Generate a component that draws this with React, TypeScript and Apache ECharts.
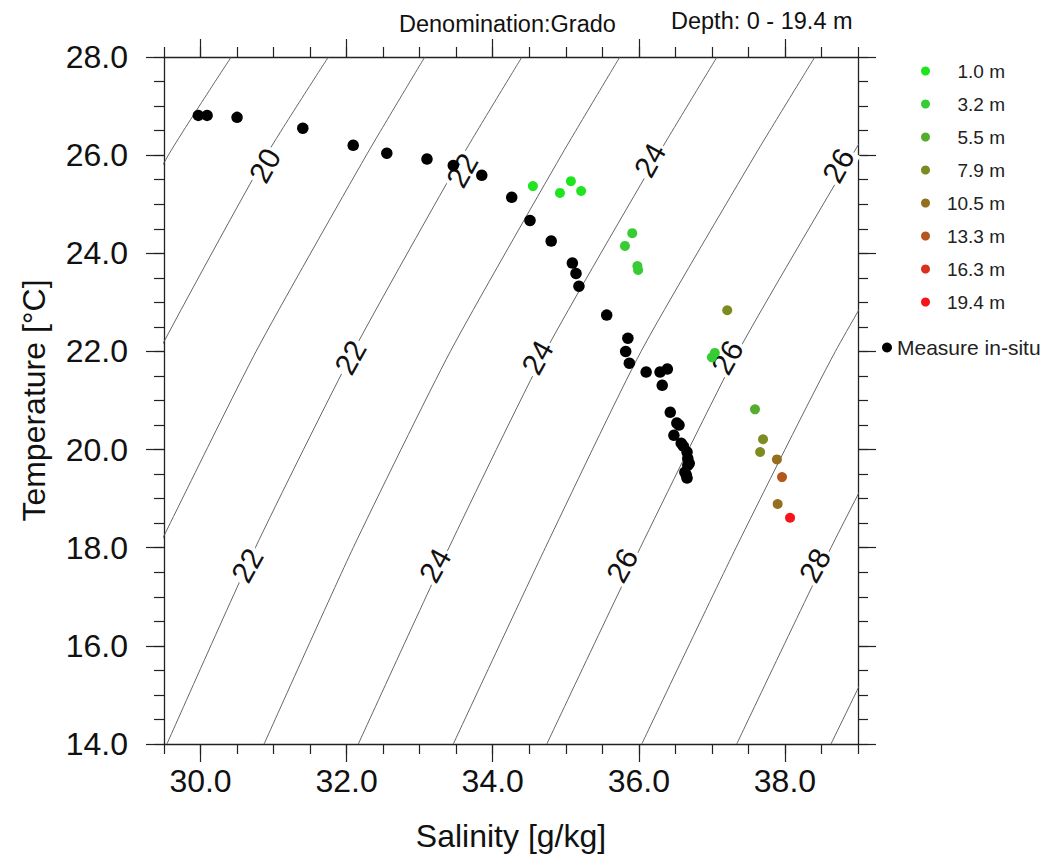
import React, { useEffect, useRef } from "react";
import * as echarts from "echarts";

const FONT = '"Liberation Sans", Arial, Helvetica, sans-serif';

// ---- axis ticks ----
const salinityRange = [29.5, 39.0];
const temperatureRange = [14, 28];
const salinityMajorTicks = [30, 32, 34, 36, 38];
const salinityMinorTicks = [29.5, 30, 30.5, 31, 31.5, 32, 32.5, 33, 33.5, 34, 34.5, 35, 35.5, 36, 36.5, 37, 37.5, 38, 38.5, 39];
const temperatureMajorTicks = [14, 16, 18, 20, 22, 24, 26, 28];
const temperatureMinorTicks = [14, 14.5, 15, 15.5, 16, 16.5, 17, 17.5, 18, 18.5, 19, 19.5, 20, 20.5, 21, 21.5, 22, 22.5, 23, 23.5, 24, 24.5, 25, 25.5, 26, 26.5, 27, 27.5, 28];

// ---- in-situ measurements (salinity g/kg, temperature °C) ----
const inSituSalinity = [29.97, 30.09, 30.5, 31.4, 32.09, 32.55, 33.1, 33.46, 33.85, 34.26, 34.51, 34.8, 35.09, 35.14, 35.18, 35.56, 35.85, 35.82, 35.87, 36.1, 36.29, 36.39, 36.32, 36.43, 36.52, 36.55, 36.48, 36.58, 36.61, 36.66, 36.67, 36.69, 36.67, 36.63, 36.65, 36.66];
const inSituTemperature = [26.81, 26.81, 26.77, 26.55, 26.2, 26.04, 25.92, 25.79, 25.59, 25.14, 24.67, 24.25, 23.8, 23.59, 23.33, 22.74, 22.27, 22.0, 21.76, 21.58, 21.58, 21.64, 21.31, 20.76, 20.54, 20.5, 20.29, 20.13, 20.07, 19.95, 19.82, 19.72, 19.68, 19.54, 19.48, 19.42];

// ---- model levels ----
const depthLevels = ["1.0 m", "3.2 m", "5.5 m", "7.9 m", "10.5 m", "13.3 m", "16.3 m", "19.4 m"];
const depthColors = ["#1fe41f", "#38cc34", "#55ad2e", "#7d8b20", "#946f1e", "#b5561d", "#d8321f", "#f5141a"];
const level1_0 = [[34.55, 25.37], [34.92, 25.23], [35.07, 25.47], [35.21, 25.27]];
const level3_2 = [[35.91, 24.41], [35.81, 24.15], [35.98, 23.74], [35.99, 23.66], [37.04, 21.97], [37.0, 21.88]];
const level5_5 = [[37.59, 20.82]];
const level7_9 = [[37.21, 22.84], [37.7, 20.21], [37.66, 19.95]];
const level10_5 = [[37.89, 19.8], [37.9, 18.89]];
const level13_3 = [[37.96, 19.44]];
const level16_3: number[][] = [];
const level19_4 = [[38.07, 18.61]];
const levelPoints = [level1_0, level3_2, level5_5, level7_9, level10_5, level13_3, level16_3, level19_4];

// ---- isopycnals (salinity, temperature) ----
const sigma19 = [[28.1, 22], [29.56, 26], [30.42, 28]];
const sigma20 = [[28.1, 18], [29.43, 22], [30.9, 26], [31.75, 28]];
const sigma21 = [[29.42, 18], [30.76, 22], [32.27, 26], [33.07, 28]];
const sigma22 = [[29.54, 14], [30.75, 18], [32.09, 22], [33.59, 26], [34.4, 28]];
const sigma23 = [[30.87, 14], [32.09, 18], [33.42, 22], [34.94, 26], [35.74, 28]];
const sigma24 = [[32.16, 14], [33.4, 18], [34.72, 22], [36.26, 26], [37.07, 28]];
const sigma25 = [[33.46, 14], [34.72, 18], [36.03, 22], [37.59, 26], [38.41, 28]];
const sigma26 = [[34.74, 14], [36.02, 18], [37.36, 22], [38.92, 26], [39.74, 28]];
const sigma27 = [[36.04, 14], [37.33, 18], [38.69, 22], [40.25, 26]];
const sigma28 = [[37.34, 14], [38.63, 18], [40.01, 22]];
const sigma29 = [[38.63, 14], [39.94, 18]];
const isopycnals = [sigma19, sigma20, sigma21, sigma22, sigma23, sigma24, sigma25, sigma26, sigma27, sigma28, sigma29];

// ---- isopycnal labels ----
const isoLabelText = ["20", "22", "24", "26", "22", "24", "26", "22", "24", "26", "28"];
const isoLabelSalinity = [30.88, 33.58, 36.15, 38.73, 32.05, 34.61, 37.21, 30.64, 33.21, 35.77, 38.41];
const isoLabelTemperature = [25.79, 25.69, 25.9, 25.79, 21.88, 21.88, 21.88, 17.64, 17.64, 17.64, 17.64];

const AXIS_COLOR = "#222";
const TEXT_COLOR = "#111";

function axis(kind: "x" | "y", position: string, ticks: number[], len: number, labels: boolean, line: boolean) {
  const range = kind === "x" ? salinityRange : temperatureRange;
  return {
    type: "value",
    position,
    min: range[0],
    max: range[1],
    scale: true,
    splitLine: { show: false },
    axisLine: { show: line, onZero: false, lineStyle: { color: AXIS_COLOR, width: 1.3 } },
    axisTick: { show: true, inside: false, length: len, customValues: ticks, lineStyle: { color: AXIS_COLOR, width: 1.2 } },
    axisLabel: labels
      ? {
          show: true,
          customValues: ticks,
          formatter: (v: number) => v.toFixed(1),
          fontFamily: FONT,
          fontSize: 32,
          color: TEXT_COLOR,
          margin: kind === "x" ? 21 : 36,
          showMinLabel: true,
          showMaxLabel: true,
        }
      : { show: false },
  };
}

export default function App() {
  const ref = useRef<HTMLDivElement>(null);
  useEffect(() => {
    if (!ref.current) return;
    const chart = echarts.init(ref.current, null, { renderer: "svg" });

    const xAxes: any[] = [
      {
        ...axis("x", "bottom", salinityMajorTicks, 18, true, true),
        name: "Salinity [g/kg]",
        nameLocation: "middle",
        nameGap: 76,
        nameTextStyle: { fontFamily: FONT, fontSize: 32, color: TEXT_COLOR },
      },
      axis("x", "bottom", salinityMinorTicks, 10, false, false),
      axis("x", "top", salinityMajorTicks, 18, false, true),
      axis("x", "top", salinityMinorTicks, 10, false, false),
    ];
    const yAxes: any[] = [
      {
        ...axis("y", "left", temperatureMajorTicks, 18, true, true),
        name: "Temperature [°C]",
        nameLocation: "middle",
        nameGap: 114,
        nameTextStyle: { fontFamily: FONT, fontSize: 32, color: TEXT_COLOR },
      },
      axis("y", "left", temperatureMinorTicks, 10, false, false),
      axis("y", "right", temperatureMajorTicks, 18, false, true),
      axis("y", "right", temperatureMinorTicks, 10, false, false),
    ];

    const lineSeries = isopycnals.map((pts, i) => ({
      type: "line",
      name: "sigma" + (19 + i),
      data: pts,
      showSymbol: false,
      symbol: "none",
      smooth: 0.2,
      silent: true,
      clip: true,
      z: 1,
      lineStyle: { color: "#555", width: 0.9 },
      emphasis: { disabled: true },
    }));

    const labelSeries = {
      type: "scatter",
      name: "isoLabels",
      data: isoLabelText.map((t, i) => [isoLabelSalinity[i], isoLabelTemperature[i], t]),
      symbolSize: 2,
      itemStyle: { color: "rgba(255,255,255,0)" },
      silent: true,
      z: 2,
      label: {
        show: true,
        position: "inside",
        formatter: (p: any) => p.value[2],
        rotate: 61,
        fontFamily: FONT,
        fontSize: 30,
        color: TEXT_COLOR,
        opacity: 1,
        backgroundColor: "#fff",
        padding: [0, 2],
      },
      emphasis: { disabled: true },
    };

    const depthSeries = depthLevels.map((name, i) => ({
      type: "scatter",
      name,
      data: levelPoints[i],
      symbol: "circle",
      symbolSize: 10,
      itemStyle: { color: depthColors[i], opacity: 1 },
      z: 5,
    }));

    const inSituSeries = {
      type: "scatter",
      name: "Measure in-situ",
      data: inSituSalinity.map((s, i) => [s, inSituTemperature[i]]),
      symbol: "circle",
      symbolSize: 11.5,
      itemStyle: { color: "#000", opacity: 1 },
      z: 4,
    };

    chart.setOption({
      animation: false,
      backgroundColor: "#fff",
      grid: { left: 164, top: 57, width: 694, height: 687, containLabel: false },
      title: [
        { text: "Denomination:Grado", left: 399, top: 12, padding: 0, textStyle: { fontFamily: FONT, fontSize: 23.5, fontWeight: "normal", color: TEXT_COLOR } },
        { text: "Depth: 0 - 19.4 m", left: 671, top: 9, padding: 0, textStyle: { fontFamily: FONT, fontSize: 23.5, fontWeight: "normal", color: TEXT_COLOR } },
      ],
      legend: [
        {
          orient: "vertical",
          left: 916,
          top: 56,
          data: depthLevels,
          icon: "circle",
          itemWidth: 9,
          itemHeight: 9,
          itemGap: 13,
          selectedMode: false,
          formatter: (n: string) => "{a|" + n + "}",
          textStyle: {
            fontFamily: FONT,
            fontSize: 19,
            color: "#222",
            lineHeight: 20,
            rich: { a: { width: 70, align: "right", fontFamily: FONT, fontSize: 19, color: "#222", lineHeight: 20 } },
          },
        },
        {
          orient: "vertical",
          left: 877,
          top: 332,
          data: ["Measure in-situ"],
          icon: "circle",
          itemWidth: 10,
          itemHeight: 10,
          itemGap: 4,
          selectedMode: false,
          textStyle: { fontFamily: FONT, fontSize: 21, color: "#222", lineHeight: 20 },
        },
      ],
      xAxis: xAxes,
      yAxis: yAxes,
      series: [...lineSeries, labelSeries, inSituSeries, ...depthSeries],
    });

    return () => chart.dispose();
  }, []);

  return <div ref={ref} style={{ position: "fixed", left: 0, top: 0, width: 1045, height: 862, background: "#fff" }} />;
}
